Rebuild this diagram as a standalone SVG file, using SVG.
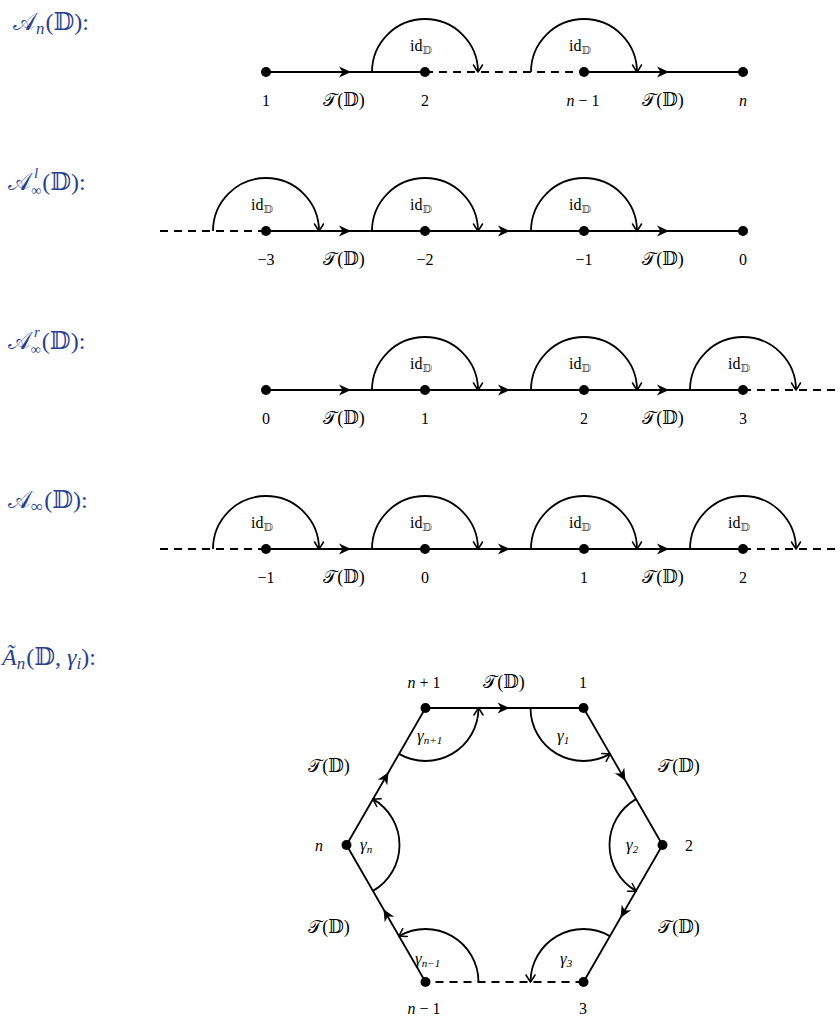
<svg xmlns="http://www.w3.org/2000/svg" width="840" height="1019" viewBox="0 0 840 1019">
<style>
.ln{stroke:#000;stroke-width:1.8;fill:none}
.ds{stroke-dasharray:8 6}
.e{marker-mid:url(#st)}
.arc{stroke:#000;stroke-width:1.8;fill:none;marker-end:url(#to)}
.nd{fill:#000}
text{font-family:"Liberation Serif","DejaVu Serif",serif;font-size:16px;fill:#000}
.c{text-anchor:middle}
.i{font-style:italic}
.m{font-family:"DejaVu Serif","DejaVu Sans",serif}
.t{font-size:18px}
.ttl{fill:#2b3f91;font-size:24px}
.ttl tspan{fill:#2b3f91}
.sm{font-size:11px;fill:#555}
.g{font-style:italic;font-size:17px}
.gs{font-size:11px}
</style>
<defs>
<marker id="st" viewBox="-12 -6 13 12" refX="0" refY="0" markerWidth="13" markerHeight="12" markerUnits="userSpaceOnUse" orient="auto"><path d="M0,0 L-12,-5.5 L-8.5,0 L-12,5.5 Z" fill="#000"/></marker>
<marker id="to" viewBox="-10 -6 12 12" refX="0" refY="0" markerWidth="12" markerHeight="12" markerUnits="userSpaceOnUse" orient="auto"><path d="M-7,-4.5 Q-2,-1.5 0,0 Q-2,1.5 -7,4.5" fill="none" stroke="#000" stroke-width="1.5" stroke-linecap="round"/></marker>
</defs>

<!-- titles -->
<g id="title1"><text class="ttl" x="13" y="30"><tspan class="m">𝒜</tspan><tspan class="i" font-size="17" dy="4">n</tspan><tspan dy="-4" dx="1">(</tspan><tspan class="m">𝔻</tspan><tspan>):</tspan></text></g>
<g id="title2"><text class="ttl" x="8" y="190"><tspan class="m">𝒜</tspan><tspan class="i" font-size="15" dx="3" dy="-12">l</tspan><tspan font-size="14" dx="-7" dy="17">∞</tspan><tspan dy="-5" dx="1">(</tspan><tspan class="m">𝔻</tspan><tspan>):</tspan></text></g>
<g id="title3"><text class="ttl" x="8" y="349"><tspan class="m">𝒜</tspan><tspan class="i" font-size="15" dx="3" dy="-12">r</tspan><tspan font-size="14" dx="-9" dy="17">∞</tspan><tspan dy="-5" dx="1">(</tspan><tspan class="m">𝔻</tspan><tspan>):</tspan></text></g>
<g id="title4"><text class="ttl" x="8" y="508"><tspan class="m">𝒜</tspan><tspan font-size="17" dy="4">∞</tspan><tspan dy="-4" dx="1">(</tspan><tspan class="m">𝔻</tspan><tspan>):</tspan></text></g>
<g id="title5"><text class="ttl" x="2" y="665"><tspan class="i">Ã</tspan><tspan class="i" font-size="17" dy="4">n</tspan><tspan dy="-4" dx="1">(</tspan><tspan class="m">𝔻</tspan><tspan>, </tspan><tspan class="i">γ</tspan><tspan class="i" font-size="17" dy="4">i</tspan><tspan dy="-4">):</tspan></text></g>

<!-- connectors -->
<g id="connectors">
<path class="ln e" d="M266,72 L351,72 L425,72"/>
<path class="ln ds" d="M425,72 H584"/>
<path class="ln e" d="M584,72 L669,72 L743,72"/>
<path class="arc" d="M372,72 A53,53 0 0 1 478,72"/>
<path class="arc" d="M531,72 A53,53 0 0 1 637,72"/>
<path class="ln ds" d="M160,231 H266"/>
<path class="ln e" d="M266,231 L351,231 L425,231"/>
<path class="ln e" d="M425,231 L510,231 L584,231"/>
<path class="ln e" d="M584,231 L669,231 L743,231"/>
<path class="arc" d="M213,231 A53,53 0 0 1 319,231"/>
<path class="arc" d="M372,231 A53,53 0 0 1 478,231"/>
<path class="arc" d="M531,231 A53,53 0 0 1 637,231"/>
<path class="ln e" d="M266,390 L351,390 L425,390"/>
<path class="ln e" d="M425,390 L510,390 L584,390"/>
<path class="ln e" d="M584,390 L669,390 L743,390"/>
<path class="ln ds" d="M743,390 H840"/>
<path class="arc" d="M372,390 A53,53 0 0 1 478,390"/>
<path class="arc" d="M531,390 A53,53 0 0 1 637,390"/>
<path class="arc" d="M690,390 A53,53 0 0 1 796,390"/>
<path class="ln ds" d="M160,549 H266"/>
<path class="ln e" d="M266,549 L351,549 L425,549"/>
<path class="ln e" d="M425,549 L510,549 L584,549"/>
<path class="ln e" d="M584,549 L669,549 L743,549"/>
<path class="ln ds" d="M743,549 H840"/>
<path class="arc" d="M213,549 A53,53 0 0 1 319,549"/>
<path class="arc" d="M372,549 A53,53 0 0 1 478,549"/>
<path class="arc" d="M531,549 A53,53 0 0 1 637,549"/>
<path class="arc" d="M690,549 A53,53 0 0 1 796,549"/>
<path class="ln e" d="M425.5,982 L383.5,909.2 L346.5,845"/>
<path class="ln e" d="M346.5,845 L388.5,772.2 L425.5,708"/>
<path class="ln e" d="M425.5,708 L509.5,708 L583.5,708"/>
<path class="ln e" d="M583.5,708 L625.5,780.8 L662.5,845"/>
<path class="ln e" d="M662.5,845 L620.5,917.8 L583.5,982"/>
<path class="ln ds" d="M583.5,982 H425.5"/>
<path class="arc" d="M530.5,708 A53,53 0 0 0 610,753.9"/>
<path class="arc" d="M399,753.9 A53,53 0 0 0 478.5,708"/>
<path class="arc" d="M373,890.9 A53,53 0 0 0 373,799.1"/>
<path class="arc" d="M636,799.1 A53,53 0 0 0 636,890.9"/>
<path class="arc" d="M610,936.1 A53,53 0 0 0 530.5,982"/>
<path class="arc" d="M478.5,982 A53,53 0 0 0 399,936.1"/>
</g>

<!-- row 1 nodes -->
<g id="r1n1"><circle class="nd" cx="266" cy="72" r="5"/><text class="c" x="266" y="106">1</text></g>
<g id="r1n2"><circle class="nd" cx="425" cy="72" r="5"/><text class="c" x="425" y="106">2</text><text x="410" y="51">id<tspan class="m sm" dy="3">𝔻</tspan></text></g>
<g id="r1n3"><circle class="nd" cx="584" cy="72" r="5"/><text class="c" x="583" y="106"><tspan class="i">n</tspan><tspan dx="4">−</tspan><tspan dx="4">1</tspan></text><text x="569" y="51">id<tspan class="m sm" dy="3">𝔻</tspan></text></g>
<g id="r1n4"><circle class="nd" cx="743" cy="72" r="5"/><text class="c i" x="743" y="106">n</text></g>
<g id="r1l"><text class="c t" x="344" y="106"><tspan class="m">𝒯</tspan>(<tspan class="m">𝔻</tspan>)</text><text class="c t" x="663" y="106"><tspan class="m">𝒯</tspan>(<tspan class="m">𝔻</tspan>)</text></g>

<!-- row 2 nodes -->
<g id="r2n1"><circle class="nd" cx="266" cy="231" r="5"/><text class="c" x="266" y="265">−3</text><text x="251" y="210">id<tspan class="m sm" dy="3">𝔻</tspan></text></g>
<g id="r2n2"><circle class="nd" cx="425" cy="231" r="5"/><text class="c" x="425" y="265">−2</text><text x="410" y="210">id<tspan class="m sm" dy="3">𝔻</tspan></text></g>
<g id="r2n3"><circle class="nd" cx="584" cy="231" r="5"/><text class="c" x="584" y="265">−1</text><text x="569" y="210">id<tspan class="m sm" dy="3">𝔻</tspan></text></g>
<g id="r2n4"><circle class="nd" cx="743" cy="231" r="5"/><text class="c" x="743" y="265">0</text></g>
<g id="r2l"><text class="c t" x="344" y="265"><tspan class="m">𝒯</tspan>(<tspan class="m">𝔻</tspan>)</text><text class="c t" x="663" y="265"><tspan class="m">𝒯</tspan>(<tspan class="m">𝔻</tspan>)</text></g>

<!-- row 3 nodes -->
<g id="r3n1"><circle class="nd" cx="266" cy="390" r="5"/><text class="c" x="266" y="424">0</text></g>
<g id="r3n2"><circle class="nd" cx="425" cy="390" r="5"/><text class="c" x="425" y="424">1</text><text x="410" y="369">id<tspan class="m sm" dy="3">𝔻</tspan></text></g>
<g id="r3n3"><circle class="nd" cx="584" cy="390" r="5"/><text class="c" x="584" y="424">2</text><text x="569" y="369">id<tspan class="m sm" dy="3">𝔻</tspan></text></g>
<g id="r3n4"><circle class="nd" cx="743" cy="390" r="5"/><text class="c" x="743" y="424">3</text><text x="728" y="369">id<tspan class="m sm" dy="3">𝔻</tspan></text></g>
<g id="r3l"><text class="c t" x="344" y="424"><tspan class="m">𝒯</tspan>(<tspan class="m">𝔻</tspan>)</text><text class="c t" x="663" y="424"><tspan class="m">𝒯</tspan>(<tspan class="m">𝔻</tspan>)</text></g>

<!-- row 4 nodes -->
<g id="r4n1"><circle class="nd" cx="266" cy="549" r="5"/><text class="c" x="266" y="583">−1</text><text x="251" y="528">id<tspan class="m sm" dy="3">𝔻</tspan></text></g>
<g id="r4n2"><circle class="nd" cx="425" cy="549" r="5"/><text class="c" x="425" y="583">0</text><text x="410" y="528">id<tspan class="m sm" dy="3">𝔻</tspan></text></g>
<g id="r4n3"><circle class="nd" cx="584" cy="549" r="5"/><text class="c" x="584" y="583">1</text><text x="569" y="528">id<tspan class="m sm" dy="3">𝔻</tspan></text></g>
<g id="r4n4"><circle class="nd" cx="743" cy="549" r="5"/><text class="c" x="743" y="583">2</text><text x="728" y="528">id<tspan class="m sm" dy="3">𝔻</tspan></text></g>
<g id="r4l"><text class="c t" x="344" y="583"><tspan class="m">𝒯</tspan>(<tspan class="m">𝔻</tspan>)</text><text class="c t" x="663" y="583"><tspan class="m">𝒯</tspan>(<tspan class="m">𝔻</tspan>)</text></g>

<!-- hexagon nodes -->
<g id="hn1"><circle class="nd" cx="425.5" cy="708" r="5"/><text class="c" x="424" y="688"><tspan class="i">n</tspan><tspan dx="4">+</tspan><tspan dx="4">1</tspan></text><text class="g" x="417" y="741">γ<tspan class="gs" dy="3">n+1</tspan></text></g>
<g id="h1"><circle class="nd" cx="583.5" cy="708" r="5"/><text class="c" x="583" y="688">1</text><text class="g" x="557" y="741">γ<tspan class="gs" dy="3">1</tspan></text></g>
<g id="h2"><circle class="nd" cx="662.5" cy="845" r="5"/><text class="c" x="689" y="851">2</text><text class="g" x="626" y="850">γ<tspan class="gs" dy="3">2</tspan></text></g>
<g id="h3"><circle class="nd" cx="583.5" cy="982" r="5"/><text class="c" x="583" y="1014">3</text><text class="g" x="560" y="964">γ<tspan class="gs" dy="3">3</tspan></text></g>
<g id="hnm1"><circle class="nd" cx="425.5" cy="982" r="5"/><text class="c" x="424" y="1014"><tspan class="i">n</tspan><tspan dx="4">−</tspan><tspan dx="4">1</tspan></text><text class="g" x="415" y="964">γ<tspan class="gs" dy="3">n−1</tspan></text></g>
<g id="hn"><circle class="nd" cx="346.5" cy="845" r="5"/><text class="c i" x="319" y="851">n</text><text class="g" x="360" y="850">γ<tspan class="gs" dy="3">n</tspan></text></g>
<g id="hl"><text class="c t" x="504" y="688"><tspan class="m">𝒯</tspan>(<tspan class="m">𝔻</tspan>)</text>
<text class="c t" x="329" y="772"><tspan class="m">𝒯</tspan>(<tspan class="m">𝔻</tspan>)</text>
<text class="c t" x="679" y="772"><tspan class="m">𝒯</tspan>(<tspan class="m">𝔻</tspan>)</text>
<text class="c t" x="329" y="933"><tspan class="m">𝒯</tspan>(<tspan class="m">𝔻</tspan>)</text>
<text class="c t" x="679" y="933"><tspan class="m">𝒯</tspan>(<tspan class="m">𝔻</tspan>)</text></g>
</svg>
